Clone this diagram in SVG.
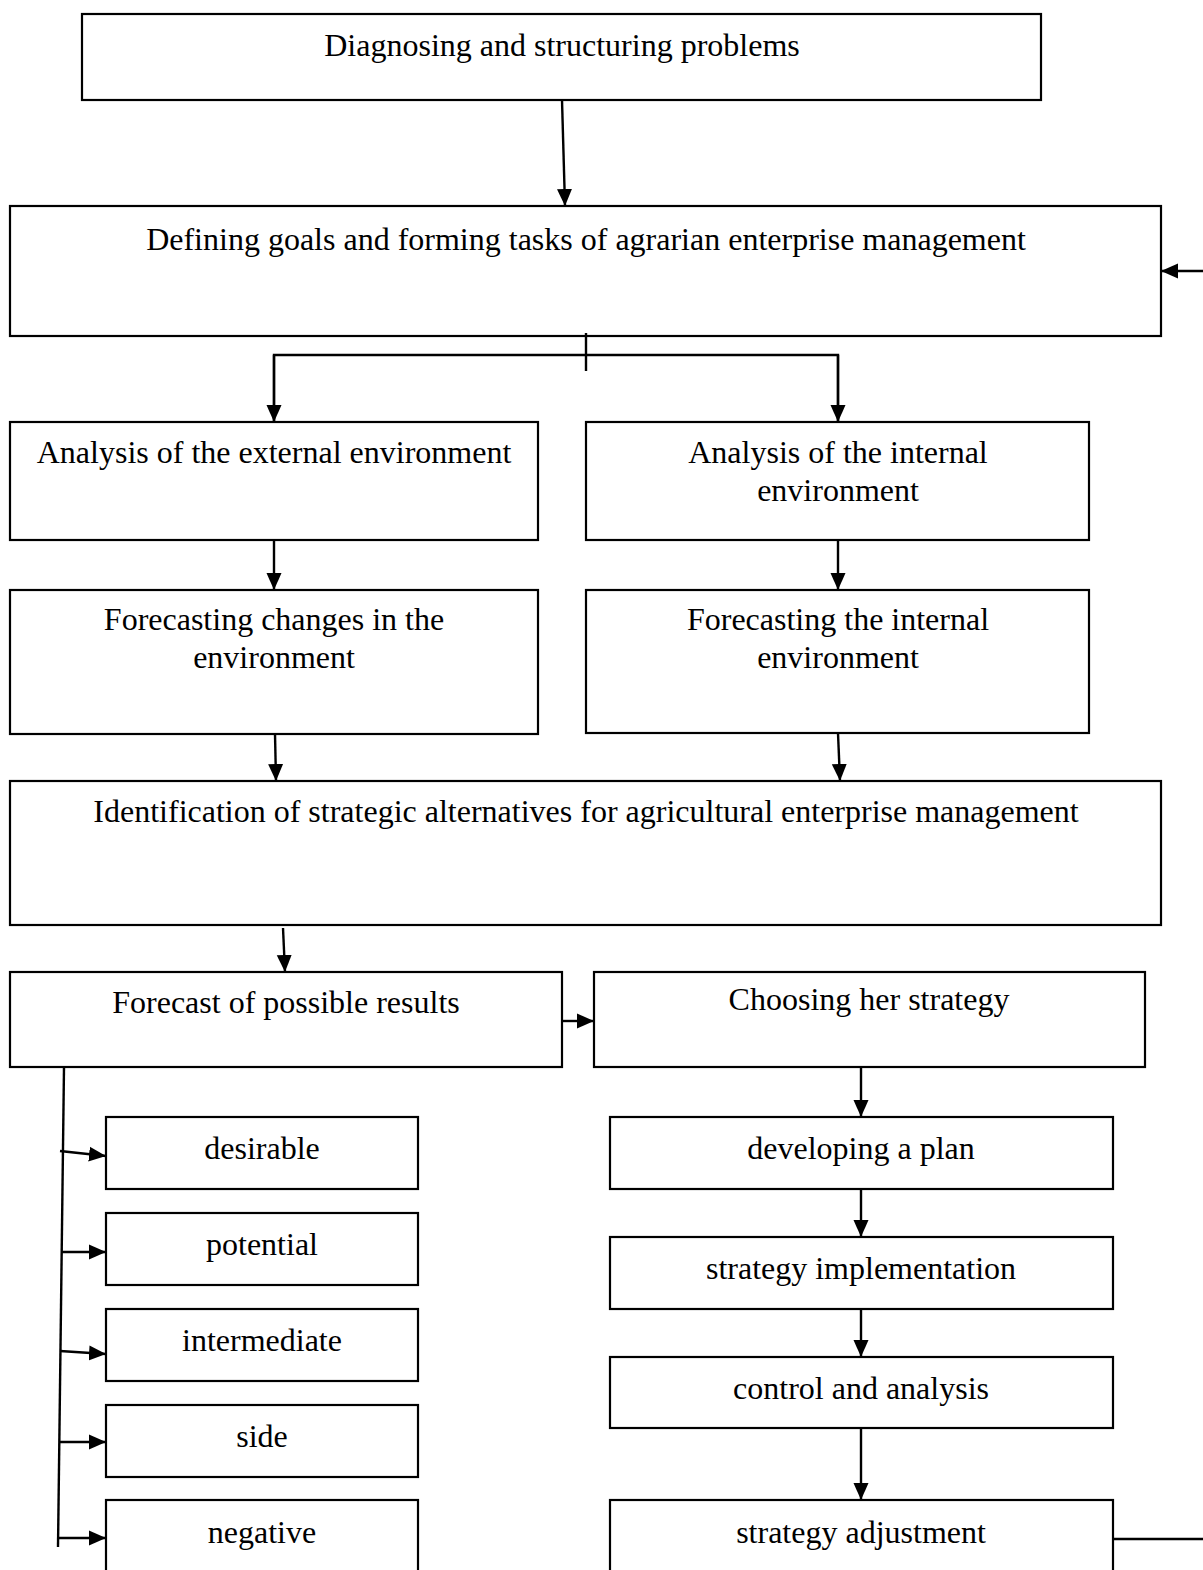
<svg xmlns="http://www.w3.org/2000/svg" width="1203" height="1570" viewBox="0 0 1203 1570">
<style>
.b{fill:#fff;stroke:#000;stroke-width:2.2}
.t{font-family:"Liberation Serif","Times New Roman",serif;font-size:32px;fill:#000;text-anchor:middle}
.c{fill:none;stroke:#000;stroke-width:2.4}
</style>
<defs>
<marker id="a" markerUnits="userSpaceOnUse" markerWidth="18" markerHeight="18" viewBox="0 0 18 18" refX="17" refY="9" orient="auto">
<path d="M0,1.5 L17,9 L0,16.5 Z" fill="#000"/>
</marker>
</defs>
<rect width="1203" height="1570" fill="#fff"/>
<g id="n1"><rect class="b" x="82" y="14" width="959" height="86"/><text class="t" x="562" y="56">Diagnosing and structuring problems</text></g>
<g id="n2"><rect class="b" x="10" y="206" width="1151" height="130"/><text class="t" x="586" y="250">Defining goals and forming tasks of agrarian enterprise management</text></g>
<g id="n3"><rect class="b" x="10" y="422" width="528" height="118"/><text class="t" x="274" y="463">Analysis of the external environment</text></g>
<g id="n4"><rect class="b" x="586" y="422" width="503" height="118"/><text class="t" x="838" y="463">Analysis of the internal</text><text class="t" x="838" y="501">environment</text></g>
<g id="n5"><rect class="b" x="10" y="590" width="528" height="144"/><text class="t" x="274" y="630">Forecasting changes in the</text><text class="t" x="274" y="668">environment</text></g>
<g id="n6"><rect class="b" x="586" y="590" width="503" height="143"/><text class="t" x="838" y="630">Forecasting the internal</text><text class="t" x="838" y="668">environment</text></g>
<g id="n7"><rect class="b" x="10" y="781" width="1151" height="144"/><text class="t" x="586" y="822">Identification of strategic alternatives for agricultural enterprise management</text></g>
<g id="n8"><rect class="b" x="10" y="972" width="552" height="95"/><text class="t" x="286" y="1013">Forecast of possible results</text></g>
<g id="n9"><rect class="b" x="594" y="972" width="551" height="95"/><text class="t" x="869" y="1010">Choosing her strategy</text></g>
<g id="n10"><rect class="b" x="610" y="1117" width="503" height="72"/><text class="t" x="861" y="1159">developing a plan</text></g>
<g id="n11"><rect class="b" x="610" y="1237" width="503" height="72"/><text class="t" x="861" y="1279">strategy implementation</text></g>
<g id="n12"><rect class="b" x="610" y="1357" width="503" height="71"/><text class="t" x="861" y="1399">control and analysis</text></g>
<g id="n13"><rect class="b" x="610" y="1500" width="503" height="80"/><text class="t" x="861" y="1543">strategy adjustment</text></g>
<g id="n14"><rect class="b" x="106" y="1117" width="312" height="72"/><text class="t" x="262" y="1159">desirable</text></g>
<g id="n15"><rect class="b" x="106" y="1213" width="312" height="72"/><text class="t" x="262" y="1255">potential</text></g>
<g id="n16"><rect class="b" x="106" y="1309" width="312" height="72"/><text class="t" x="262" y="1351">intermediate</text></g>
<g id="n17"><rect class="b" x="106" y="1405" width="312" height="72"/><text class="t" x="262" y="1447">side</text></g>
<g id="n18"><rect class="b" x="106" y="1500" width="312" height="80"/><text class="t" x="262" y="1543">negative</text></g>
<g id="edges">
<line class="c" x1="562" y1="100" x2="565" y2="206" marker-end="url(#a)"/>
<line class="c" x1="1203" y1="271" x2="1161" y2="271" marker-end="url(#a)"/>
<line class="c" x1="586" y1="333" x2="586" y2="371"/>
<polyline class="c" points="274,422 274,355 838,355 838,422"/>
<line class="c" x1="274" y1="355" x2="274" y2="422" marker-end="url(#a)"/>
<line class="c" x1="838" y1="355" x2="838" y2="422" marker-end="url(#a)"/>
<line class="c" x1="274" y1="540" x2="274" y2="590" marker-end="url(#a)"/>
<line class="c" x1="838" y1="540" x2="838" y2="590" marker-end="url(#a)"/>
<line class="c" x1="275" y1="734" x2="276" y2="781" marker-end="url(#a)"/>
<line class="c" x1="838" y1="733" x2="840" y2="781" marker-end="url(#a)"/>
<line class="c" x1="283" y1="928" x2="285" y2="972" marker-end="url(#a)"/>
<line class="c" x1="562" y1="1021" x2="594" y2="1021" marker-end="url(#a)"/>
<line class="c" x1="861" y1="1067" x2="861" y2="1117" marker-end="url(#a)"/>
<line class="c" x1="861" y1="1189" x2="861" y2="1237" marker-end="url(#a)"/>
<line class="c" x1="861" y1="1309" x2="861" y2="1357" marker-end="url(#a)"/>
<line class="c" x1="861" y1="1428" x2="861" y2="1500" marker-end="url(#a)"/>
<line class="c" x1="1113" y1="1539" x2="1203" y2="1539"/>
<line class="c" x1="64" y1="1067" x2="58" y2="1547"/>
<line class="c" x1="60" y1="1151" x2="106" y2="1156" marker-end="url(#a)"/>
<line class="c" x1="62" y1="1252" x2="106" y2="1252" marker-end="url(#a)"/>
<line class="c" x1="60" y1="1351" x2="106" y2="1354" marker-end="url(#a)"/>
<line class="c" x1="60" y1="1442" x2="106" y2="1442" marker-end="url(#a)"/>
<line class="c" x1="59" y1="1538" x2="106" y2="1538" marker-end="url(#a)"/>
</g>
</svg>
